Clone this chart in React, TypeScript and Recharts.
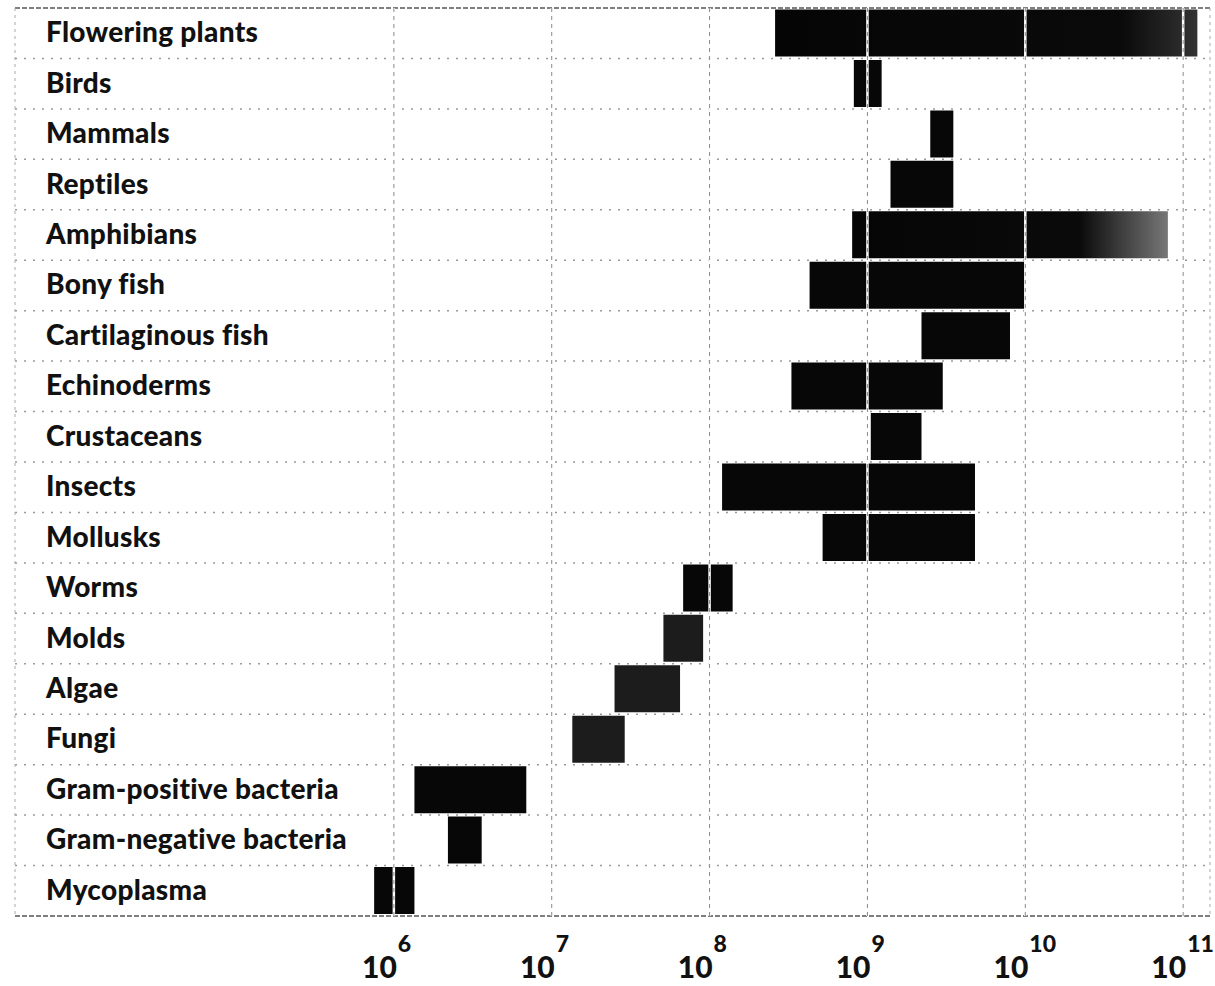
import React from "react";
import {
  BarChart,
  Bar,
  XAxis,
  YAxis,
  CartesianGrid,
  ReferenceLine,
  Cell,
} from "recharts";

const categories = [
  "Flowering plants",
  "Birds",
  "Mammals",
  "Reptiles",
  "Amphibians",
  "Bony fish",
  "Cartilaginous fish",
  "Echinoderms",
  "Crustaceans",
  "Insects",
  "Mollusks",
  "Worms",
  "Molds",
  "Algae",
  "Fungi",
  "Gram-positive bacteria",
  "Gram-negative bacteria",
  "Mycoplasma",
];

// genome size range in base pairs (min, max)
const minSize = [
  2.6e8, 8.2e8, 2.5e9, 1.4e9, 8e8, 4.3e8, 2.2e9, 3.3e8, 1.05e9, 1.2e8, 5.2e8,
  6.8e7, 5.1e7, 2.5e7, 1.35e7, 1.35e6, 2.2e6, 7.5e5,
];
const maxSize = [
  1.23e11, 1.23e9, 3.5e9, 3.5e9, 8e10, 1.0e10, 8e9, 3.0e9, 2.2e9, 4.8e9, 4.8e9,
  1.4e8, 9.1e7, 6.5e7, 2.9e7, 6.9e6, 3.6e6, 1.35e6,
];

const tickValues = [1e6, 1e7, 1e8, 1e9, 1e10, 1e11];
const domainMin = Math.pow(10, 3.6);
const domainMax = Math.pow(10, 11.17);

const data = categories.map((name, i) => ({
  name,
  range: [minSize[i], maxSize[i]],
}));

const FONT = "Lato, 'DejaVu Sans', sans-serif";

const LabelTick = (props: any) => {
  const { x, y, payload } = props;
  return (
    <text
      x={x + 31}
      y={y}
      dy={9}
      textAnchor="start"
      fontFamily={FONT}
      fontWeight={900}
      fontSize={28}
      letterSpacing={0.3}
      fill="#111"
    >
      {payload.value}
    </text>
  );
};

const PowerTick = (props: any) => {
  const { x, y, payload } = props;
  const exp = Math.round(Math.log10(payload.value));
  return (
    <g fontFamily={FONT} fontWeight={900} fill="#111">
      <text x={x + 3} y={y + 62} textAnchor="end" fontSize={30}>
        10
      </text>
      <text x={x + 4} y={y + 36} textAnchor="start" fontSize={23}>
        {exp}
      </text>
    </g>
  );
};

const rowLines = ({ offset }: any) => {
  const step = offset.height / categories.length;
  return categories.slice(1).map((_, i) => offset.top + step * (i + 1));
};

export default function App() {
  return (
    <div style={{ position: "absolute", left: 0, top: 0, background: "#fff" }}>
      <BarChart
        width={1215}
        height={986}
        data={data}
        layout="vertical"
        margin={{ top: 8, right: 5, bottom: 0, left: 15 }}
        barCategoryGap="3%"
      >
        <defs>
          <linearGradient id="fade" x1="0" y1="0" x2="1" y2="0">
            <stop offset="0%" stopColor="#050505" />
            <stop offset="72%" stopColor="#0a0a0a" />
            <stop offset="100%" stopColor="#777" />
          </linearGradient>
          <linearGradient id="fadeSoft" x1="0" y1="0" x2="1" y2="0">
            <stop offset="0%" stopColor="#050505" />
            <stop offset="82%" stopColor="#0a0a0a" />
            <stop offset="100%" stopColor="#333" />
          </linearGradient>
        </defs>
        <CartesianGrid
          vertical={false}
          horizontalCoordinatesGenerator={rowLines}
          stroke="#9a9a9a"
          strokeDasharray="2 7"
          strokeWidth={1.5}
        />
        <CartesianGrid
          vertical={false}
          horizontalCoordinatesGenerator={({ offset }: any) => [
            offset.top,
            offset.top + offset.height,
          ]}
          stroke="#555"
          strokeDasharray="5 2"
          strokeWidth={1.5}
        />
        <CartesianGrid
          horizontal={false}
          verticalCoordinatesGenerator={({ offset }: any) => [
            offset.left,
            offset.left + offset.width,
          ]}
          stroke="#aaa"
          strokeDasharray="3 4"
        />
        <XAxis
          type="number"
          scale="log"
          domain={[domainMin, domainMax]}
          ticks={tickValues}
          allowDataOverflow
          axisLine={false}
          tickLine={false}
          tickSize={0}
          tickMargin={0}
          height={70}
          interval={0}
          tick={<PowerTick />}
        />
        <YAxis
          type="category"
          dataKey="name"
          mirror
          axisLine={false}
          tickLine={false}
          tickSize={0}
          tickMargin={0}
          interval={0}
          tick={<LabelTick />}
        />
        <Bar dataKey="range" isAnimationActive={false}>
          {data.map((d) => (
            <Cell
              key={d.name}
              fill={
                d.name === "Amphibians"
                  ? "url(#fade)"
                  : d.name === "Flowering plants"
                  ? "url(#fadeSoft)"
                  : ["Molds", "Algae", "Fungi"].includes(d.name)
                  ? "#1c1c1c"
                  : "#070707"
              }
            />
          ))}
        </Bar>
        {tickValues.map((t) => (
          <ReferenceLine key={"w" + t} x={t} stroke="#fff" strokeWidth={2.5} />
        ))}
        {tickValues.map((t) => (
          <ReferenceLine
            key={"g" + t}
            x={t}
            stroke="#8a8a8a"
            strokeWidth={1}
            strokeDasharray="4 4"
          />
        ))}
      </BarChart>
    </div>
  );
}
